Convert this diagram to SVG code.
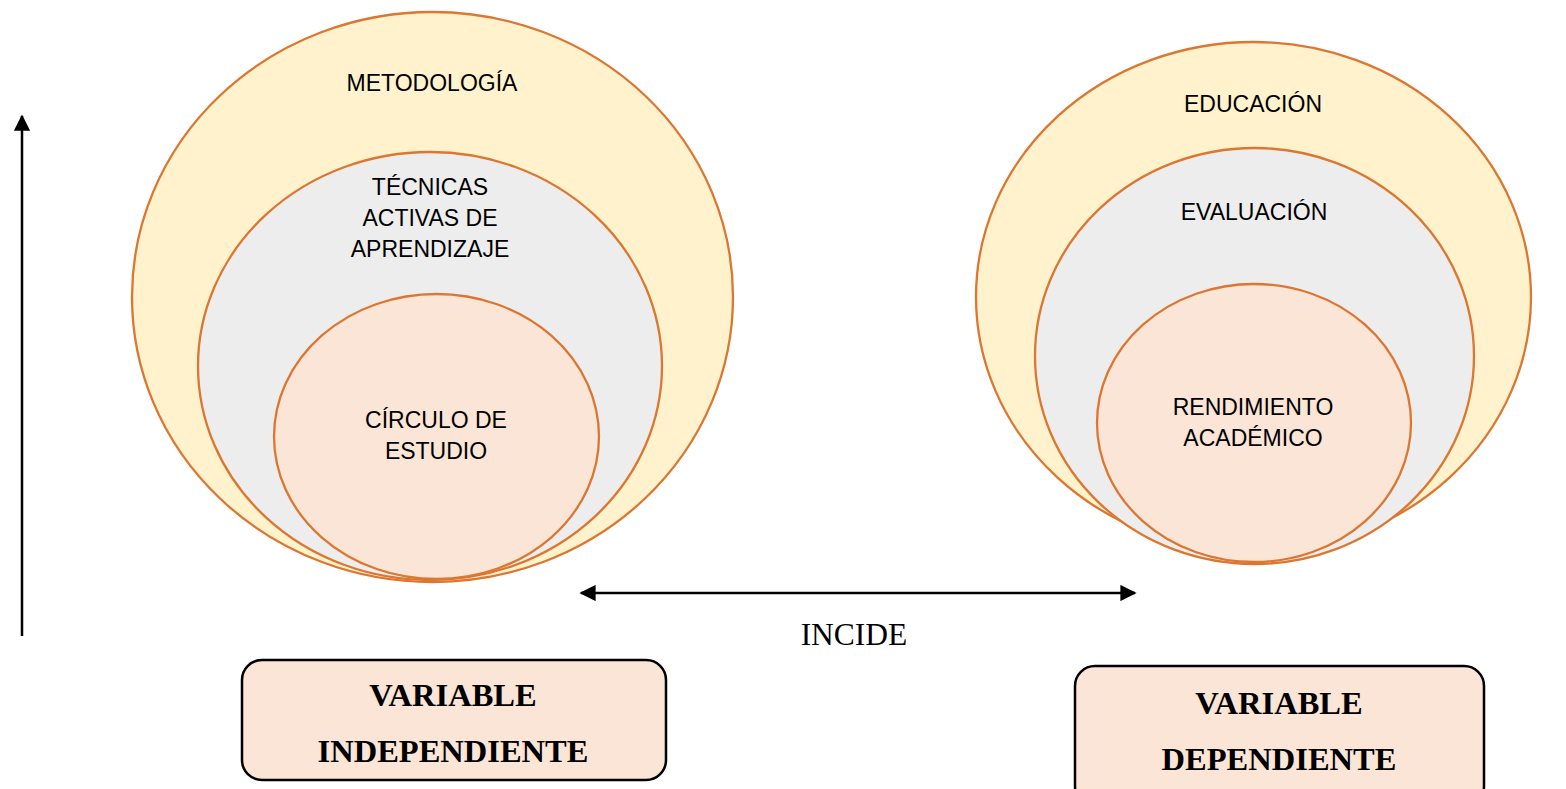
<svg xmlns="http://www.w3.org/2000/svg" width="1566" height="789" viewBox="0 0 1566 789">
<style>
.e{stroke:#DC7630;stroke-width:2.3}
.o{fill:#FFF2CC}.m{fill:#EDEDED}.i{fill:#FBE5D6}
.t{font-family:"Liberation Sans",Arial,sans-serif;font-size:23px;fill:#000;text-anchor:middle}
.b{font-family:"Liberation Serif","Times New Roman",serif;font-size:32.5px;font-weight:bold;fill:#000;text-anchor:middle}
.box{fill:#FBE5D6;stroke:#000;stroke-width:2.5}
.ln{stroke:#000;stroke-width:2.5;fill:none}
</style>
<defs>
<marker id="ah" viewBox="0 0 10 10" refX="9" refY="5" markerWidth="6.5" markerHeight="6.5" orient="auto-start-reverse" markerUnits="strokeWidth">
<path d="M0,0 L10,5 L0,10 z" fill="#000"/>
</marker>
</defs>
<g id="metodologia"><ellipse class="e o" cx="432.5" cy="297" rx="300.5" ry="285"/><text class="t" x="432" y="91">METODOLOGÍA</text></g>
<g id="tecnicas"><ellipse class="e m" cx="430" cy="366" rx="232" ry="214"/><text class="t" x="430" y="195">TÉCNICAS</text><text class="t" x="430" y="226">ACTIVAS DE</text><text class="t" x="430" y="257">APRENDIZAJE</text></g>
<g id="circulo"><ellipse class="e i" cx="436.5" cy="436.5" rx="162.5" ry="142.5"/><text class="t" x="436" y="428">CÍRCULO DE</text><text class="t" x="436" y="459">ESTUDIO</text></g>
<g id="educacion"><ellipse class="e o" cx="1253.5" cy="297" rx="277.5" ry="255"/><text class="t" x="1253" y="112">EDUCACIÓN</text></g>
<g id="evaluacion"><ellipse class="e m" cx="1254.5" cy="356" rx="219.5" ry="208"/><text class="t" x="1254" y="220">EVALUACIÓN</text></g>
<g id="rendimiento"><ellipse class="e i" cx="1254" cy="423" rx="157" ry="139"/><text class="t" x="1253" y="415">RENDIMIENTO</text><text class="t" x="1253" y="446">ACADÉMICO</text></g>
<g id="connectors">
<line class="ln" x1="22" y1="636" x2="22" y2="116" marker-end="url(#ah)"/>
<line class="ln" x1="581" y1="593" x2="1135" y2="593" marker-start="url(#ah)" marker-end="url(#ah)"/>
<text x="854" y="645" font-family="Liberation Serif,'Times New Roman',serif" font-size="31.5" text-anchor="middle">INCIDE</text>
</g>
<g id="var-independiente"><rect class="box" x="242" y="660" width="424" height="120" rx="20"/><text class="b" x="453" y="706">VARIABLE</text><text class="b" x="453" y="762">INDEPENDIENTE</text></g>
<g id="var-dependiente"><rect class="box" x="1075" y="666" width="409" height="140" rx="20"/><text class="b" x="1279" y="714">VARIABLE</text><text class="b" x="1279" y="770">DEPENDIENTE</text></g>
</svg>
